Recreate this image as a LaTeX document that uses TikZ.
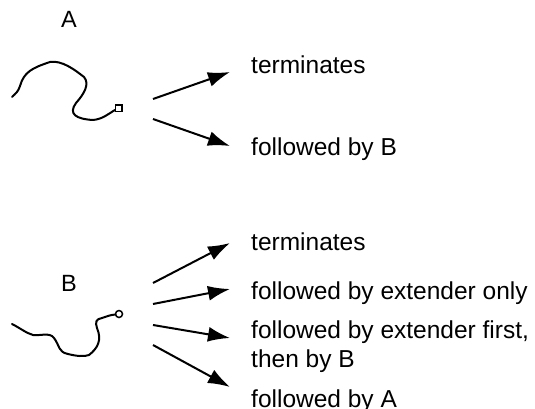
\documentclass[tikz,border=0pt]{standalone}
\usepackage{fontspec}
\setmainfont{Liberation Sans}
\usetikzlibrary{arrows.meta}
\begin{document}
\begin{tikzpicture}[x=1pt,y=-1pt,
  lbl/.style={anchor=base west,inner sep=0pt,font=\fontsize{23.5}{29}\selectfont},
  txt/.style={anchor=base west,inner sep=0pt,align=left,font=\fontsize{24.5}{29}\selectfont},
  arr/.style={line width=2pt,-{Latex[length=22pt,width=15pt]}},
  curve/.style={line width=2pt,line cap=round,line join=round}]
\useasboundingbox (0,0) rectangle (535,409);
% labels
\node[lbl] (A) at (61,28) {A};
\node[lbl] (B) at (61,291) {B};
% texts
\node[txt] (t1) at (251,74) {terminates};
\node[txt] (t2) at (251,155) {followed by B};
\node[txt] (t3) at (251,250) {terminates};
\node[txt] (t4) at (251,299) {followed by extender only};
\node[txt] (t5) at (251,367) {followed by extender first,\\then by B};
\node[txt] (t6) at (251,407) {followed by A};
% curve A
\draw[curve] (12,97) .. controls (16,93) and (18,92) .. (20,86)
  .. controls (24,72) and (32,68) .. (50,62)
  .. controls (62,60) and (75,70) .. (84,77)
  .. controls (90,84) and (84,94) .. (76,103)
  .. controls (68,114) and (76,119) .. (93,120)
  .. controls (103,119) and (108,114) .. (115,110);
\node[draw,line width=1.5pt,minimum size=6.5pt,inner sep=0pt] (sq) at (118.5,108.5) {};
% curve B
\draw[curve] (12,324) .. controls (20,328) and (26,333) .. (33,335)
  .. controls (40,336) and (50,332) .. (54,338)
  .. controls (60,346) and (58,352) .. (68,354)
  .. controls (76,356) and (84,357) .. (89,355)
  .. controls (98,348) and (102,340) .. (97,328)
  .. controls (95,322) and (96,319) .. (102,318)
  .. controls (108,316) and (110,315) .. (115.5,314.5);
\node[draw,circle,line width=1.5pt,minimum size=7pt,inner sep=0pt] (ci) at (119,314) {};
% arrow coordinates
\coordinate (a1s) at (153,99);  \coordinate (a1e) at (230,72);
\coordinate (a2s) at (153,119); \coordinate (a2e) at (230,146);
\coordinate (b1s) at (153,283); \coordinate (b1e) at (230,243);
\coordinate (b2s) at (153,304); \coordinate (b2e) at (230,289);
\coordinate (b3s) at (153,325); \coordinate (b3e) at (230,338);
\coordinate (b4s) at (153,345); \coordinate (b4e) at (230,387);
\draw[arr] (a1s) -- (a1e);
\draw[arr] (a2s) -- (a2e);
\draw[arr] (b1s) -- (b1e);
\draw[arr] (b2s) -- (b2e);
\draw[arr] (b3s) -- (b3e);
\draw[arr] (b4s) -- (b4e);
\end{tikzpicture}
\end{document}
